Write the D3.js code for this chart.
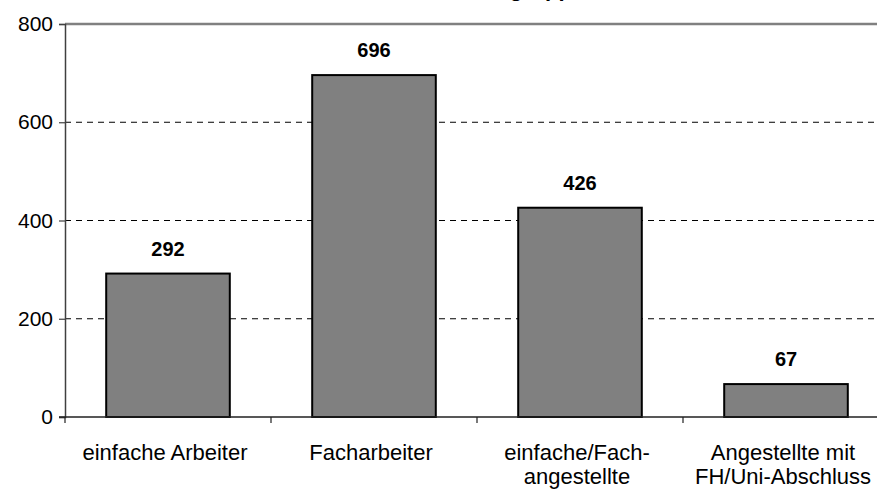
<!DOCTYPE html>
<html><head><meta charset="utf-8">
<script src="https://cdn.jsdelivr.net/npm/d3@7"></script>
<style>body{margin:0;background:#fff;overflow:hidden}svg{display:block;font-family:Arial,"Liberation Sans",sans-serif}</style>
</head><body>
<svg id="c" width="877" height="489"></svg>
<script>
const titleText = "Berufsgruppe";
const categories = [["einfache Arbeiter"], ["Facharbeiter"], ["einfache/Fach-", "angestellte"], ["Angestellte mit", "FH/Uni-Abschluss"]];
const values = [292, 696, 426, 67];
const yTicks = [0, 200, 400, 600, 800];

(function () {
const svg = d3.select("#c");
const mLeft = 65, mRight = 889, mTop = 24, mBottom = 417;
const x = d3.scaleBand().domain(d3.range(values.length)).range([mLeft, mRight]).paddingInner(0.4).paddingOuter(0.2);
const xb = d3.scaleLinear().domain([0, values.length]).range([mLeft, mRight]);
const y = d3.scaleLinear().domain([0, 800]).range([mBottom, mTop]);

// title (cut off at the top, as in the reference)
svg.append("text").attr("x", 512).attr("y", -4).attr("text-anchor", "middle")
  .attr("font-size", 22).attr("font-weight", "bold").text(titleText);

// gridlines
svg.append("g").selectAll("line").data(yTicks.filter(d => d > 0 && d < 800)).join("line")
  .attr("x1", mLeft).attr("x2", mRight).attr("y1", d => y(d)).attr("y2", d => y(d))
  .attr("stroke", "#000").attr("stroke-width", 1).attr("stroke-dasharray", "6,5");
// top border
svg.append("line").attr("x1", mLeft).attr("x2", mRight).attr("y1", y(800)).attr("y2", y(800))
  .attr("stroke", "#808080").attr("stroke-width", 2.5);

// bars
svg.append("g").selectAll("rect").data(values).join("rect")
  .attr("x", (d, i) => x(i)).attr("width", x.bandwidth())
  .attr("y", d => y(d)).attr("height", d => y(0) - y(d))
  .attr("fill", "#808080").attr("stroke", "#000").attr("stroke-width", 2);

// value labels
svg.append("g").selectAll("text").data(values).join("text")
  .attr("x", (d, i) => x(i) + x.bandwidth() / 2).attr("y", d => y(d) - 18)
  .attr("text-anchor", "middle").attr("font-size", 20).attr("font-weight", "bold").text(d => d);

// y axis
const yAxis = d3.axisLeft(y).tickValues(yTicks).tickSize(6).tickPadding(6);
const gy = svg.append("g").attr("transform", `translate(${mLeft},0)`).call(yAxis);
gy.select(".domain").attr("stroke", "#404040").attr("stroke-width", 1.5);
gy.selectAll(".tick line").attr("stroke", "#404040").attr("stroke-width", 1.2);
gy.selectAll("text").attr("font-size", 21).attr("fill", "#000").attr("font-family", "Arial, 'Liberation Sans', sans-serif");

// x axis baseline and ticks
svg.append("line").attr("x1", mLeft - 6).attr("x2", mRight).attr("y1", y(0)).attr("y2", y(0))
  .attr("stroke", "#202020").attr("stroke-width", 1.5);
svg.append("g").selectAll("line").data(d3.range(values.length + 1)).join("line")
  .attr("x1", d => xb(d)).attr("x2", d => xb(d)).attr("y1", y(0)).attr("y2", y(0) + 6)
  .attr("stroke", "#202020").attr("stroke-width", 1.2);

// category labels
const cl = svg.append("g").selectAll("text").data(categories).join("text")
  .attr("x", (d, i) => x(i) + x.bandwidth() / 2 - 3).attr("y", 460)
  .attr("text-anchor", "middle").attr("font-size", 22);
cl.selectAll("tspan").data(d => d).join("tspan")
  .attr("x", function () { return d3.select(this.parentNode).attr("x"); })
  .attr("dy", (d, i) => i === 0 ? 0 : 24).text(d => d);
})();
</script>
</body></html>
